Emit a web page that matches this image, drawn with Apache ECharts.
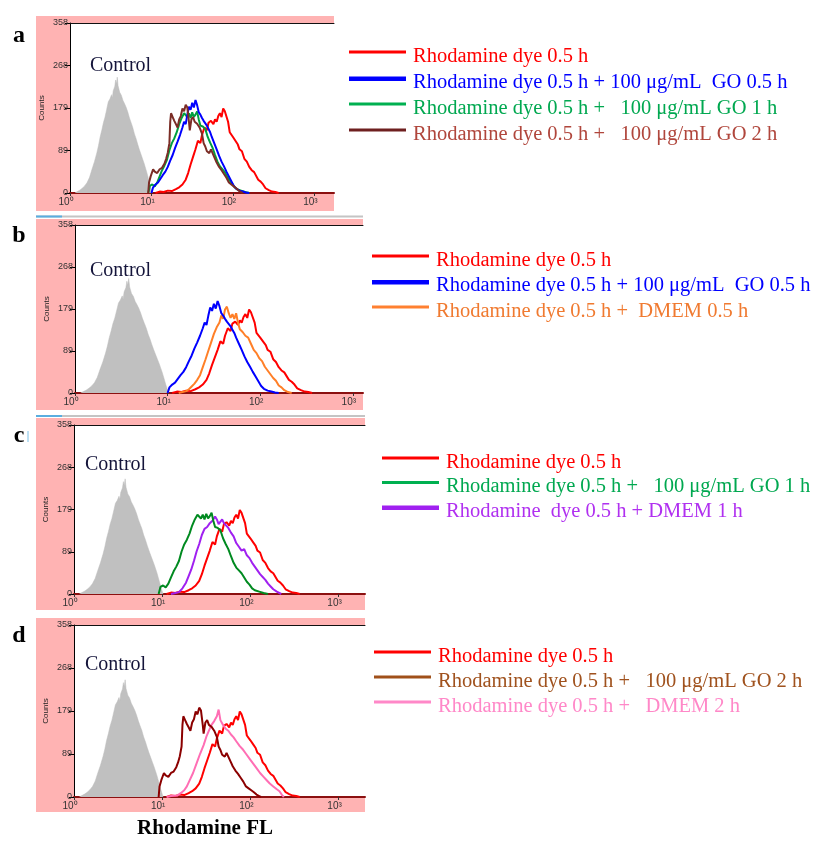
<!DOCTYPE html>
<html>
<head>
<meta charset="utf-8">
<script src="https://cdn.jsdelivr.net/npm/echarts@6/dist/echarts.min.js"></script>
<style>
html, body { margin: 0; padding: 0; background: #fff; }
#main { width: 813px; height: 844px; }
</style>
</head>
<body>
<div id="main"></div>
<script>
// x = log10 of Rhodamine fluorescence, y = counts
const xTicks = [0, 1, 2, 3];
const xTickLabels = ['10⁰', '10¹', '10²', '10³'];
const yTickLabels = ['0', '89', '179', '268', '358'];

const control = [[0.06,0],[0.09,3],[0.12,6],[0.15,10],[0.18,15],[0.21,22],[0.24,33],[0.27,50],[0.3,66],[0.33,85],[0.35,100],[0.37,118],[0.39,132],[0.41,148],[0.43,160],[0.45,176],[0.47,192],[0.49,198],[0.51,207],[0.52,200],[0.53,215],[0.55,225],[0.56,238],[0.57,230],[0.58,244],[0.59,226],[0.61,212],[0.63,206],[0.65,195],[0.67,188],[0.69,180],[0.71,170],[0.73,158],[0.75,148],[0.77,138],[0.79,125],[0.81,115],[0.83,103],[0.85,92],[0.87,82],[0.89,72],[0.91,62],[0.93,58],[0.94,45],[0.96,32],[0.98,18],[1.0,6],[1.01,0]];

const dye = [[1.05,0],[1.1,3],[1.15,2],[1.2,5],[1.25,4],[1.3,8],[1.34,12],[1.38,18],[1.42,28],[1.45,42],[1.48,60],[1.51,76],[1.54,92],[1.57,110],[1.6,105],[1.62,122],[1.65,138],[1.68,132],[1.7,148],[1.73,152],[1.76,145],[1.78,155],[1.8,150],[1.82,162],[1.84,168],[1.86,160],[1.88,178],[1.9,172],[1.92,176],[1.94,150],[1.96,128],[1.98,124],[2.0,118],[2.03,110],[2.06,102],[2.08,92],[2.11,88],[2.14,72],[2.17,66],[2.2,55],[2.23,48],[2.26,44],[2.28,40],[2.31,28],[2.34,24],[2.37,18],[2.4,10],[2.44,6],[2.48,3],[2.52,2],[2.56,0]];

const go05 = [[1.0,0],[1.02,12],[1.05,18],[1.08,22],[1.11,30],[1.14,38],[1.17,45],[1.2,55],[1.23,68],[1.26,80],[1.29,95],[1.32,108],[1.35,122],[1.38,138],[1.4,150],[1.42,145],[1.44,165],[1.46,182],[1.48,175],[1.5,190],[1.52,180],[1.54,196],[1.56,185],[1.58,170],[1.6,165],[1.62,158],[1.64,152],[1.66,150],[1.68,142],[1.7,135],[1.72,128],[1.74,118],[1.77,105],[1.8,92],[1.83,78],[1.86,66],[1.89,56],[1.92,45],[1.95,35],[1.98,25],[2.01,15],[2.04,9],[2.08,5],[2.12,3],[2.16,1],[2.2,0]];

const go1 = [[0.96,0],[0.98,15],[1.01,18],[1.04,14],[1.07,22],[1.1,35],[1.13,48],[1.16,58],[1.19,70],[1.22,90],[1.25,105],[1.28,115],[1.31,128],[1.34,145],[1.37,158],[1.4,168],[1.42,172],[1.44,160],[1.46,168],[1.48,158],[1.5,170],[1.52,160],[1.54,165],[1.56,172],[1.58,155],[1.6,142],[1.63,140],[1.66,135],[1.69,118],[1.72,106],[1.75,95],[1.78,80],[1.81,66],[1.84,56],[1.87,50],[1.9,44],[1.93,35],[1.96,26],[1.99,20],[2.02,12],[2.05,8],[2.1,5],[2.15,2],[2.2,0]];

const go2 = [[0.96,0],[0.97,22],[0.99,35],[1.02,50],[1.04,45],[1.07,42],[1.1,50],[1.13,53],[1.16,62],[1.18,72],[1.2,85],[1.22,105],[1.23,150],[1.24,168],[1.26,160],[1.28,152],[1.3,145],[1.32,138],[1.34,155],[1.36,162],[1.38,178],[1.4,172],[1.42,186],[1.44,180],[1.46,150],[1.47,132],[1.49,155],[1.51,160],[1.53,150],[1.56,146],[1.59,138],[1.62,125],[1.64,105],[1.66,98],[1.68,88],[1.71,84],[1.73,92],[1.75,90],[1.78,72],[1.8,64],[1.83,55],[1.86,48],[1.89,40],[1.92,32],[1.95,22],[1.98,18],[2.01,14],[2.04,10],[2.07,5],[2.1,2],[2.12,0]];

const dmem05 = [[1.12,0],[1.16,2],[1.2,4],[1.23,8],[1.26,14],[1.29,20],[1.32,28],[1.35,38],[1.38,55],[1.41,72],[1.44,90],[1.47,108],[1.5,126],[1.53,140],[1.56,150],[1.58,165],[1.6,158],[1.62,178],[1.64,184],[1.66,170],[1.68,160],[1.7,168],[1.72,158],[1.74,170],[1.76,150],[1.78,136],[1.81,130],[1.84,122],[1.87,118],[1.9,105],[1.93,92],[1.96,85],[1.99,74],[2.02,68],[2.05,56],[2.08,48],[2.11,40],[2.14,32],[2.17,26],[2.2,16],[2.23,12],[2.26,6],[2.3,2],[2.34,0]];

const dmem1 = [[1.1,0],[1.15,2],[1.19,4],[1.23,12],[1.27,24],[1.3,38],[1.33,52],[1.36,70],[1.39,90],[1.42,106],[1.45,125],[1.48,138],[1.51,142],[1.54,150],[1.57,155],[1.6,164],[1.62,158],[1.64,148],[1.66,152],[1.68,158],[1.7,150],[1.72,148],[1.75,140],[1.78,130],[1.81,122],[1.84,108],[1.87,100],[1.9,92],[1.93,95],[1.96,82],[1.99,76],[2.02,66],[2.05,58],[2.08,50],[2.11,42],[2.14,36],[2.17,30],[2.2,22],[2.23,16],[2.26,10],[2.3,5],[2.35,0]];

const dmem2 = [[1.05,0],[1.1,2],[1.17,3],[1.21,8],[1.25,14],[1.28,22],[1.31,34],[1.35,50],[1.39,70],[1.43,90],[1.47,108],[1.5,125],[1.53,138],[1.56,150],[1.59,158],[1.62,168],[1.64,182],[1.66,160],[1.69,150],[1.72,142],[1.75,138],[1.78,130],[1.81,124],[1.84,116],[1.88,106],[1.91,100],[1.95,90],[1.99,80],[2.03,70],[2.07,60],[2.11,50],[2.15,42],[2.18,36],[2.22,28],[2.26,22],[2.3,16],[2.33,12],[2.36,4],[2.38,0]];

const nDye = 'Rhodamine dye 0.5 h';
const nGO05 = 'Rhodamine dye 0.5 h + 100 μg/mL  GO 0.5 h';
const nGO1 = 'Rhodamine dye 0.5 h +   100 μg/mL GO 1 h';
const nGO2 = 'Rhodamine dye 0.5 h +   100 μg/mL GO 2 h';
const nD05 = 'Rhodamine dye 0.5 h +  DMEM 0.5 h';
const nD1 = 'Rhodamine  dye 0.5 h + DMEM 1 h';
const nD2 = 'Rhodamine dye 0.5 h +   DMEM 2 h';

// legend swatch sits a little above the text, like in the figure
const thinBar = 'path://M0,0H57V3H0Z M58,12L59,12';
const thickBar = 'path://M0,0H57V4.5H0Z M58,12L59,12';

const red = { name: nDye, data: dye, color: '#ff0000', legend: '#ff0000', text: '#ff0000', z: 2 };

const panels = [
    {
        letter: 'a', letterPos: [19, 36], controlPos: [90, 66],
        grid: { left: 70, top: 23, width: 264, height: 170 }, xMax: 3.24,
        bg: [36, 16, 298, 195], legendPos: [349, 46], legendGap: 5,
        lines: [
            red,
            { name: nGO05, data: go05, color: '#0000ff', legend: '#0000ff', text: '#0000ff', z: 4, thick: true },
            { name: nGO1, data: go1, color: '#00a040', legend: '#00b050', text: '#00a850', z: 3 },
            { name: nGO2, data: go2, color: '#7b2d26', legend: '#6e1f1f', text: '#b0463c', z: 5 }
        ]
    },
    {
        letter: 'b', letterPos: [19, 236], controlPos: [90, 271],
        grid: { left: 75, top: 225, width: 288, height: 168 }, xMax: 3.11,
        bg: [36, 219, 327, 191], legendPos: [372, 250], legendGap: 4.5,
        lines: [
            red,
            { name: nGO05, data: go05, color: '#0000ff', legend: '#0000ff', text: '#0000ff', z: 4, thick: true },
            { name: nD05, data: dmem05, color: '#ff7f27', legend: '#ff8030', text: '#f07a30', z: 3 }
        ]
    },
    {
        letter: 'c', letterPos: [19, 436], controlPos: [85, 465],
        grid: { left: 74, top: 425, width: 291, height: 169 }, xMax: 3.3,
        bg: [36, 418, 329, 192], legendPos: [382, 452], legendGap: 3.5,
        lines: [
            red,
            { name: nGO1, data: go1, color: '#008a20', legend: '#00b050', text: '#00a850', z: 4 },
            { name: nD1, data: dmem1, color: '#a020f0', legend: '#a020f0', text: '#b030f0', z: 3, thick: true }
        ]
    },
    {
        letter: 'd', letterPos: [19, 636], controlPos: [85, 665],
        grid: { left: 74, top: 625, width: 291, height: 172 }, xMax: 3.3,
        bg: [36, 618, 329, 194], legendPos: [374, 646], legendGap: 4,
        lines: [
            red,
            { name: nGO2, data: go2, color: '#8b0000', legend: '#a0501a', text: '#a0521e', z: 4 },
            { name: nD2, data: dmem2, color: '#ff6eb4', legend: '#ff88c8', text: '#ff88c8', z: 3 }
        ]
    }
];

const grids = [], xAxes = [], yAxes = [], series = [], legends = [], graphics = [];

panels.forEach((p, i) => {
    grids.push(Object.assign({ show: true, backgroundColor: '#fff', borderWidth: 0 }, p.grid));

    // bottom axis with decade labels
    xAxes.push({
        type: 'value', gridIndex: i, min: 0, max: p.xMax, position: 'bottom',
        axisLine: { lineStyle: { color: '#8b1010', width: 2 } },
        axisTick: { customValues: xTicks, length: 3, lineStyle: { color: '#333' } },
        axisLabel: {
            customValues: xTicks, margin: 4, fontSize: 10, color: '#333',
            fontFamily: 'Liberation Sans', padding: [0, 8, 0, 0],
            formatter: v => xTickLabels[xTicks.indexOf(Math.round(v))]
        },
        splitLine: { show: false }
    });
    yAxes.push({
        type: 'value', gridIndex: i, min: 0, max: 358, interval: 89.5,
        name: 'Counts', nameLocation: 'middle', nameGap: 24, nameRotate: 90,
        nameTextStyle: { fontSize: 8, color: '#222', fontFamily: 'Liberation Sans' },
        axisLine: { show: true, lineStyle: { color: '#000', width: 1 } },
        axisTick: { show: true, length: 5, lineStyle: { color: '#000' } },
        axisLabel: {
            margin: 2, fontSize: 9, color: '#333',
            fontFamily: "'Liberation Sans Narrow', 'Liberation Sans', sans-serif",
            formatter: v => yTickLabels[Math.round(v / 89.5)]
        },
        splitLine: { show: false }
    });

    series.push({
        type: 'line', name: 'Control', xAxisIndex: i, yAxisIndex: i, data: control,
        symbol: 'none', z: 1, silent: true,
        lineStyle: { color: '#bdbdbd', width: 0.5 },
        areaStyle: { color: '#c0c0c0', opacity: 1 }
    });
    p.lines.forEach(l => {
        series.push({
            type: 'line', name: l.name, xAxisIndex: i, yAxisIndex: i, data: l.data,
            symbol: 'none', z: l.z, silent: true,
            itemStyle: { color: l.color },
            lineStyle: { color: l.color, width: 2 }
        });
    });

    legends.push({
        orient: 'vertical', left: p.legendPos[0], top: p.legendPos[1], padding: 0,
        itemWidth: 59, itemHeight: 12, itemGap: p.legendGap, selectedMode: false,
        textStyle: { fontFamily: 'Liberation Serif', fontSize: 20.5 },
        data: p.lines.map(l => ({
            name: l.name, icon: l.thick ? thickBar : thinBar,
            itemStyle: { color: l.legend }, textStyle: { color: l.text }
        }))
    });

    graphics.push({
        type: 'rect', z: -5, silent: true,
        shape: { x: p.bg[0], y: p.bg[1], width: p.bg[2], height: p.bg[3] },
        style: { fill: '#ffb3b3' }
    });
    graphics.push({
        type: 'text', z: 100, x: p.letterPos[0], y: p.letterPos[1],
        style: { text: p.letter, font: 'bold 24px "Liberation Serif"', fill: '#000', textAlign: 'center', textVerticalAlign: 'middle' }
    });
    graphics.push({
        type: 'text', z: 100, x: p.controlPos[0], y: p.controlPos[1],
        style: { text: 'Control', font: '20px "Liberation Serif"', fill: '#14143a', textAlign: 'left', textVerticalAlign: 'middle' }
    });
});

// top border of each plot
panels.forEach((p, i) => {
    xAxes.push({
        type: 'value', gridIndex: i, min: 0, max: p.xMax, position: 'top',
        axisLine: { lineStyle: { color: '#111', width: 1 } },
        axisTick: { show: false }, axisLabel: { show: false }, splitLine: { show: false }
    });
});

// scrollbar strips between panels
[[216.5, 363], [416, 365]].forEach(s => {
    graphics.push({ type: 'line', z: 50, silent: true, shape: { x1: 36, y1: s[0], x2: s[1], y2: s[0] }, style: { stroke: '#c4c4c4', lineWidth: 2 } });
    graphics.push({ type: 'line', z: 51, silent: true, shape: { x1: 36, y1: s[0], x2: 62, y2: s[0] }, style: { stroke: '#5aaee0', lineWidth: 2 } });
});
graphics.push({ type: 'line', z: 50, silent: true, shape: { x1: 28, y1: 431, x2: 28, y2: 442 }, style: { stroke: '#7ac0e8', lineWidth: 1 } });

graphics.push({
    type: 'text', z: 100, x: 205, y: 829,
    style: { text: 'Rhodamine FL', font: 'bold 21px "Liberation Serif"', fill: '#000', textAlign: 'center', textVerticalAlign: 'middle' }
});

const chart = echarts.init(document.getElementById('main'), null, { renderer: 'canvas' });
chart.setOption({
    animation: false,
    backgroundColor: '#fff',
    grid: grids,
    xAxis: xAxes,
    yAxis: yAxes,
    legend: legends,
    series: series,
    graphic: graphics
});
</script>
</body>
</html>
